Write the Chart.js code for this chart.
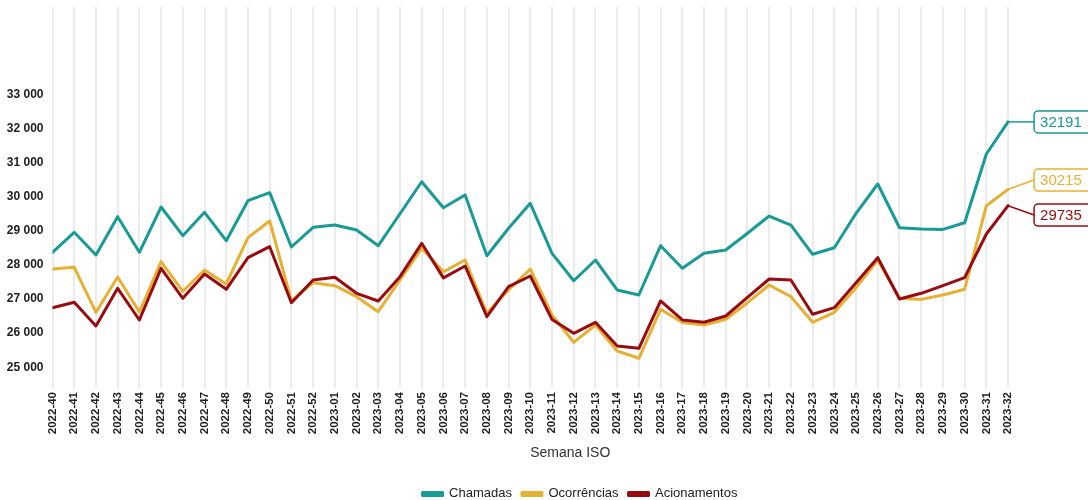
<!DOCTYPE html>
<html>
<head>
<meta charset="utf-8">
<script src="https://cdn.jsdelivr.net/npm/chart.js@4"></script>
<style>
  html, body { margin: 0; padding: 0; background: #fff; }
  #wrap { width: 1088px; height: 500px; }
</style>
</head>
<body>
<div id="wrap"><canvas id="myChart"></canvas></div>
<script>
// semanas ISO
var semanas = [
  "2022-40", "2022-41", "2022-42", "2022-43", "2022-44", "2022-45", "2022-46", "2022-47",
  "2022-48", "2022-49", "2022-50", "2022-51", "2022-52", "2023-01", "2023-02", "2023-03",
  "2023-04", "2023-05", "2023-06", "2023-07", "2023-08", "2023-09", "2023-10", "2023-11",
  "2023-12", "2023-13", "2023-14", "2023-15", "2023-16", "2023-17", "2023-18", "2023-19",
  "2023-20", "2023-21", "2023-22", "2023-23", "2023-24", "2023-25", "2023-26", "2023-27",
  "2023-28", "2023-29", "2023-30", "2023-31", "2023-32"
];

var chamadas = [
  28370, 28955, 28290, 29413, 28370, 29697, 28856, 29541, 28710, 29882, 30117, 28525, 29102, 29170, 29023,
  28563, 29500, 30438, 29677, 30048, 28270, 29073, 29805, 28340, 27537, 28144, 27265, 27118, 28563, 27900,
  28340, 28437, 28926, 29433, 29169, 28311, 28504, 29512, 30371, 29090, 29052, 29040, 29237, 31250, 32191
];

var ocorrencias = [
  27880, 27930, 26611, 27646, 26620, 28095, 27227, 27851, 27441, 28798, 29287, 26950, 27479, 27391, 27069,
  26629, 27558, 28487, 27801, 28144, 26582, 27265, 27880, 26532, 25732, 26239, 25477, 25264, 26699, 26310,
  26239, 26406, 26893, 27411, 27069, 26318, 26611, 27333, 28144, 27022, 26990, 27118, 27285, 29735, 30215
];

var acionamentos = [
  26747, 26905, 26210, 27315, 26386, 27900, 27022, 27734, 27285, 28212, 28534, 26893, 27558, 27637, 27168,
  26943, 27655, 28633, 27620, 27968, 26483, 27362, 27675, 26400, 25996, 26318, 25624, 25557, 26943, 26386,
  26318, 26503, 27051, 27587, 27558, 26553, 26747, 27479, 28212, 27000, 27168, 27391, 27626, 28906, 29735
];

var yTicks = [25000, 26000, 27000, 28000, 29000, 30000, 31000, 32000, 33000];

var fonte = "'Liberation Sans', Arial, Helvetica, sans-serif";
var cores = ["#189a96", "#e6b033", "#980c10"];

function milhar(v) {
  return String(v).replace(/\B(?=(\d{3})+(?!\d))/g, " ");
}

// pares {x: indice da semana, y: valor}
function pontos(serie) {
  return serie.map(function (v, i) { return { x: i, y: v }; });
}

// rotulos do ultimo valor (caixinhas a direita)
var rotulosFinais = {
  id: "rotulosFinais",
  afterDatasetsDraw: function (chart) {
    var ctx = chart.ctx;
    var itens = [];
    chart.data.datasets.forEach(function (ds, i) {
      var meta = chart.getDatasetMeta(i);
      var pt = meta.data[meta.data.length - 1];
      var ult = ds.data[ds.data.length - 1];
      itens.push({ x: pt.x, y: pt.y, ly: pt.y, cor: ds.borderColor, valor: ult.y });
    });
    // afastar rotulos muito proximos
    var ord = itens.slice().sort(function (a, b) { return a.y - b.y; });
    var gap = 35;
    for (var k = 1; k < ord.length; k++) {
      var d = ord[k].ly - ord[k - 1].ly;
      if (d < gap) {
        var meio = (ord[k].ly + ord[k - 1].ly) / 2;
        ord[k - 1].ly = meio - gap / 2;
        ord[k].ly = meio + gap / 2;
      }
    }
    ctx.save();
    itens.forEach(function (it) {
      var boxX = it.x + 26;
      ctx.strokeStyle = it.cor;
      ctx.lineWidth = 1.5;
      ctx.beginPath();
      ctx.moveTo(it.x, it.y);
      ctx.lineTo(boxX, it.ly);
      ctx.stroke();

      ctx.beginPath();
      ctx.roundRect(boxX, it.ly - 11, 70, 22, 4);
      ctx.fillStyle = "#fff";
      ctx.fill();
      ctx.stroke();

      ctx.fillStyle = it.cor;
      ctx.font = "15px " + fonte;
      ctx.textBaseline = "middle";
      ctx.textAlign = "left";
      ctx.fillText(String(it.valor), boxX + 6, it.ly + 1);
    });
    ctx.restore();
  }
};

// legenda um pouco deslocada (direita e para baixo), como no original
var moveLegenda = {
  id: "moveLegenda",
  afterLayout: function (chart) {
    chart.legend.left += 36;
    chart.legend.right += 36;
    chart.legend.top += 3;
    chart.legend.bottom += 3;
  }
};

var ctx = document.getElementById("myChart");
var myChart = new Chart(ctx, {
  type: "line",
  data: {
    datasets: [
      { label: "Chamadas", data: pontos(chamadas), borderColor: cores[0], backgroundColor: cores[0], order: 3 },
      { label: "Ocorrências", data: pontos(ocorrencias), borderColor: cores[1], backgroundColor: cores[1], order: 2 },
      { label: "Acionamentos", data: pontos(acionamentos), borderColor: cores[2], backgroundColor: cores[2], order: 1 }
    ]
  },
  options: {
    responsive: true,
    maintainAspectRatio: false,
    animation: false,
    elements: {
      line: { borderWidth: 3, tension: 0, borderJoinStyle: "round", borderCapStyle: "round" },
      point: { radius: 0, hoverRadius: 0 }
    },
    layout: { padding: { top: 7, right: 0, left: 0, bottom: -7.4 } },
    plugins: {
      tooltip: { enabled: false },
      legend: {
        position: "bottom",
        labels: {
          sort: function (a, b) { return a.datasetIndex - b.datasetIndex; },
          boxWidth: 20,
          boxHeight: 3,
          padding: 10,
          color: "#222",
          font: { family: fonte, size: 13 }
        }
      }
    },
    scales: {
      x: {
        type: "linear",
        min: 0,
        max: 47.68,
        border: { display: false },
        grid: { color: "#ebebeb", lineWidth: 2, drawTicks: false },
        afterBuildTicks: function (s) {
          s.ticks = semanas.map(function (_, i) { return { value: i }; });
        },
        afterFit: function (s) { s.height = 86.4; },
        ticks: {
          autoSkip: false,
          maxRotation: 90,
          minRotation: 90,
          padding: 4,
          color: "#222",
          font: { family: fonte, size: 11.5, weight: "bold" },
          callback: function (v) { return semanas[v]; }
        },
        title: {
          display: true,
          text: "Semana ISO",
          color: "#333",
          padding: { top: 9, bottom: 13 },
          font: { family: fonte, size: 14 }
        }
      },
      y: {
        min: 24393,
        max: 35558,
        border: { display: false },
        grid: { display: false, drawTicks: false },
        afterBuildTicks: function (s) {
          s.ticks = yTicks.map(function (v) { return { value: v }; });
        },
        afterFit: function (s) {
          s.width = 52.5;
          s.paddingTop = 0;
          s.paddingBottom = 0;
        },
        ticks: {
          padding: 9,
          color: "#222",
          font: { family: fonte, size: 12, weight: "bold" },
          callback: function (v) { return milhar(v); }
        }
      }
    }
  },
  plugins: [rotulosFinais, moveLegenda]
});
</script>
</body>
</html>
